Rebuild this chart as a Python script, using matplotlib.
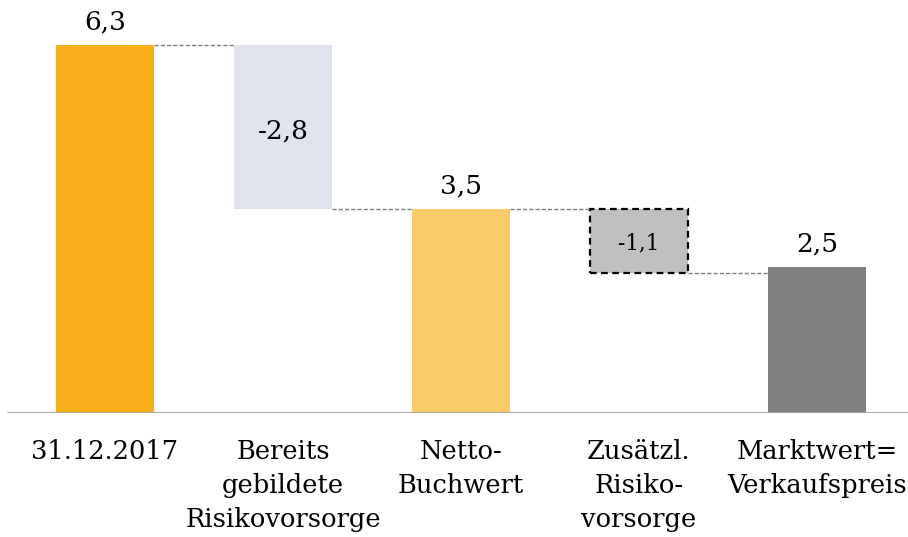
import matplotlib
matplotlib.use("Agg")
import matplotlib.pyplot as plt

# Waterfall data (Mrd. EUR)
categories = ["31.12.2017", "Bereits\ngebildete\nRisikovorsorge", "Netto-\nBuchwert",
              "Zusätzl.\nRisiko-\nvorsorge", "Marktwert=\nVerkaufspreis"]
values = [6.3, -2.8, 3.5, -1.1, 2.5]
kinds = ["total", "delta", "total", "delta", "total"]
value_labels = ["6,3", "-2,8", "3,5", "-1,1", "2,5"]

colors = ["#F9AF1C", "#DEE3EE", "#F9CC68", "#BFBFBF", "#808080"]

plt.rcParams["font.family"] = ["DejaVu Serif"]

fig = plt.figure(figsize=(9.08, 5.37), dpi=100)
ax = fig.add_axes([0, 0.2309, 1, 0.7616])

x = list(range(len(values)))
width = 0.55

bottoms, heights = [], []
running = 0.0
for v, k in zip(values, kinds):
    if k == "total":
        bottoms.append(0.0)
        heights.append(v)
        running = v
    else:
        bottoms.append(running + v)
        heights.append(-v)
        running = running + v

for i in x:
    if i == 3:
        ax.bar(i, heights[i], bottom=bottoms[i], width=width, color=colors[i],
               edgecolor="black", linewidth=1.6, linestyle=(0, (3, 2)))
    else:
        ax.bar(i, heights[i], bottom=bottoms[i], width=width, color=colors[i],
               linewidth=0)

# connector lines between bars
levels = []
running = 0.0
for v, k in zip(values, kinds):
    running = v if k == "total" else running + v
    levels.append(running)
for i in range(len(values) - 1):
    ax.plot([i + width / 2, i + 1 - width / 2], [levels[i], levels[i]],
            color="#7F7F7F", linewidth=1.0, linestyle=(0, (3, 1.5)))

# value labels
for i in x:
    if kinds[i] == "total":
        ax.text(i, heights[i] + 0.17, value_labels[i], ha="center", va="bottom",
                fontsize=19)
    else:
        mid = bottoms[i] + heights[i] / 2
        if i == 1:
            ax.text(i, mid - 0.08, value_labels[i], ha="center", va="center",
                    fontsize=19)
        else:
            ax.text(i, mid - 0.05, value_labels[i], ha="center", va="center",
                    fontsize=15.5)

# baseline
ax.axhline(0, xmin=8 / 908, xmax=1, color="#A6A6A6", linewidth=2)

ax.set_xlim(-105 / 178, (908 - 105) / 178)
ax.set_ylim(0, 7.0)
for s in ax.spines.values():
    s.set_visible(False)
ax.set_yticks([])
ax.set_xticks(x)
ax.set_xticklabels(categories, fontsize=18.5, linespacing=1.45)
ax.tick_params(axis="x", length=0, pad=19)

fig.savefig("out.png", dpi=100)
